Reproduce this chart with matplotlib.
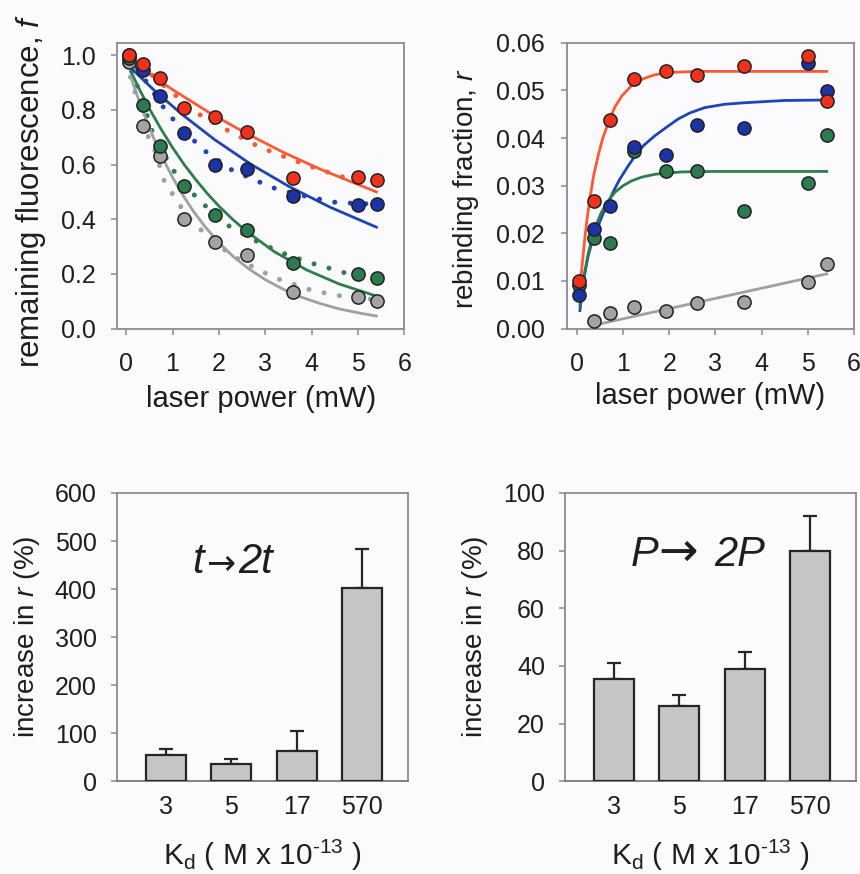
import matplotlib
matplotlib.use("Agg")
from matplotlib import pyplot as plt
from matplotlib.transforms import offset_copy

plt.rcParams['font.family'] = ['Liberation Sans', 'DejaVu Sans']
plt.rcParams['mathtext.fontset'] = 'custom'
plt.rcParams['mathtext.rm'] = 'Liberation Sans'
plt.rcParams['mathtext.it'] = 'Liberation Sans:italic'

# laser power values (mW) shared by both top panels
power = [0.05, 0.37, 0.72, 1.24, 1.92, 2.6, 3.61, 5.0, 5.41]

# remaining fluorescence f (top left)
f_red = [1.0, 0.967, 0.915, 0.806, 0.775, 0.72, 0.55, 0.553, 0.544]
f_blue = [1.0, 0.945, 0.85, 0.715, 0.597, 0.583, 0.484, 0.453, 0.456]
f_green = [0.99, 0.818, 0.668, 0.52, 0.417, 0.362, 0.24, 0.198, 0.186]
f_gray = [0.975, 0.74, 0.632, 0.40, 0.317, 0.268, 0.134, 0.116, 0.10]

# solid fit curves
fit_red_x = [0.3, 1.0, 1.8, 2.6, 3.4, 4.2, 5.4]
fit_red_y = [0.955, 0.874, 0.789, 0.713, 0.644, 0.582, 0.50]
fit_blue_x = [0.15, 0.6, 1.2, 1.9, 2.7, 3.5, 4.4, 5.4]
fit_blue_y = [0.945, 0.872, 0.784, 0.692, 0.600, 0.521, 0.444, 0.371]
fit_green_x = [0.1, 0.3, 0.5, 0.75, 1.0, 1.25, 1.5, 1.75, 2.0, 2.3, 2.6, 3.2, 3.9, 4.6, 5.4]
fit_green_y = [0.94, 0.87, 0.804, 0.73, 0.662, 0.60, 0.545, 0.494, 0.448, 0.399, 0.355, 0.281,
               0.214, 0.163, 0.119]
fit_gray_x = [0.1, 0.2, 0.4, 0.6, 0.8, 1.0, 1.2, 1.45, 1.7, 2.0, 2.3, 2.65, 3.0, 3.4, 3.8, 4.2,
              4.6, 5.0, 5.4]
fit_gray_y = [0.92, 0.869, 0.777, 0.694, 0.619, 0.553, 0.494, 0.429, 0.373, 0.314, 0.265, 0.218,
              0.179, 0.143, 0.114, 0.091, 0.072, 0.058, 0.046]

# dotted curves
dot_red_x = [0.05, 0.37, 0.98, 1.6, 2.24, 2.89, 3.5, 4.15, 4.76, 5.0, 5.41]
dot_red_y = [1.0, 0.955, 0.864, 0.781, 0.72, 0.663, 0.623, 0.583, 0.55, 0.545, 0.535]
dot_blue_x = [0.05, 0.41, 0.84, 1.09, 1.67, 2.28, 2.93, 3.25, 3.9, 4.51, 4.83, 5.41]
dot_blue_y = [1.0, 0.909, 0.80, 0.75, 0.653, 0.58, 0.532, 0.51, 0.483, 0.462, 0.459, 0.455]
dot_green_x = [0.12, 0.34, 0.55, 0.84, 1.06, 1.56, 2.17, 2.82, 3.14, 3.47, 3.79, 4.1, 4.42, 4.74,
               5.0, 5.41]
dot_green_y = [0.94, 0.84, 0.726, 0.63, 0.568, 0.471, 0.38, 0.319, 0.294, 0.27, 0.252, 0.234,
               0.219, 0.203, 0.198, 0.19]
dot_gray_x = [0.09, 0.30, 0.48, 0.63, 0.81, 0.99, 1.2, 1.45, 2.07, 2.39, 2.71, 3.04, 3.32, 3.65,
              3.97, 4.30, 4.62, 5.41]
dot_gray_y = [0.92, 0.805, 0.70, 0.647, 0.544, 0.495, 0.44, 0.385, 0.294, 0.258, 0.228, 0.20,
              0.179, 0.16, 0.142, 0.13, 0.12, 0.105]

# rebinding fraction r (top right)
r_red = [0.0099, 0.0268, 0.0439, 0.0524, 0.0541, 0.0532, 0.0551, 0.0572, 0.0478]
r_blue = [0.0070, 0.0209, 0.0258, 0.0382, 0.0365, 0.0428, 0.0422, 0.0557, 0.0498]
r_green = [0.0091, 0.019, 0.018, 0.0372, 0.0331, 0.033, 0.0246, 0.0306, 0.0406]
r_gray_x = [0.37, 0.72, 1.24, 1.92, 2.6, 3.61, 5.0, 5.41]
r_gray = [0.0015, 0.0033, 0.0045, 0.0037, 0.0054, 0.0056, 0.0098, 0.0135]

rfit_red_x = [0.065, 0.1, 0.17, 0.22, 0.28, 0.36, 0.46, 0.56, 0.68, 0.82, 0.97, 1.2, 1.4, 1.65,
              1.9, 2.3, 2.63, 5.41]
rfit_red_y = [0.0077, 0.012, 0.0188, 0.023, 0.0272, 0.032, 0.0363, 0.040, 0.0432, 0.0465,
              0.0488, 0.0512, 0.0523, 0.0532, 0.0537, 0.0539, 0.054, 0.054]
rfit_blue_x = [0.065, 0.15, 0.245, 0.35, 0.46, 0.57, 0.68, 0.8, 0.93, 1.1, 1.26, 1.45, 1.69, 1.9,
               2.19, 2.45, 2.77, 3.2, 3.6, 4.5, 5.41]
rfit_blue_y = [0.0038, 0.0105, 0.0153, 0.019, 0.0216, 0.0242, 0.0265, 0.029, 0.0314, 0.034,
               0.0363, 0.0385, 0.0405, 0.042, 0.044, 0.0453, 0.0464, 0.0471, 0.0474, 0.0479, 0.048]
rfit_green_x = [0.065, 0.12, 0.17, 0.24, 0.32, 0.42, 0.53, 0.66, 0.82, 1.0, 1.18, 1.4, 1.69, 2.0,
                2.27, 3.0, 5.41]
rfit_green_y = [0.0049, 0.009, 0.0119, 0.0155, 0.0188, 0.0218, 0.0244, 0.0266, 0.0286, 0.030,
                0.031, 0.0318, 0.0324, 0.0327, 0.0329, 0.033, 0.033]
rfit_gray_x = [0.36, 5.41]
rfit_gray_y = [0.0007, 0.0115]

# bar panels
kd_labels = ['3', '5', '17', '570']
time_increase = [55.5, 35.5, 64, 403]
time_err = [12.5, 10.5, 40, 80]
power_increase = [35.6, 26, 39, 80]
power_err = [5.4, 4, 6, 12]

RED, BLUE, GREEN, GRAY = '#f2311d', '#1c33a6', '#2c7b4e', '#a3a3a5'
RED_L, BLUE_L, GREEN_L, GRAY_L = '#fd5a32', '#1f44b8', '#2f7d4b', '#a0a0a2'
BG = '#fbfbfd'
TXT = '#1e1e1e'
SPINE = '#8c8c8c'

fig = plt.figure(figsize=(8.6, 8.74), dpi=100, facecolor=BG)


def style_axes(ax):
    ax.set_facecolor(BG)
    for s in ax.spines.values():
        s.set_color(SPINE)
        s.set_linewidth(1.3)
    ax.tick_params(labelsize=18, colors=SPINE, labelcolor=TXT, length=4.5, width=1.1)


def draw_points(ax, x, y, c):
    ax.plot(x, y, 'o', ms=9.5, mfc=c, mec='#222222', mew=1.1, zorder=5)


# top left
ax1 = fig.add_axes([0.136, 0.624, 0.334, 0.327])
style_axes(ax1)
for dx, dy, c in [(dot_red_x, dot_red_y, RED_L), (dot_blue_x, dot_blue_y, BLUE_L),
                  (dot_green_x, dot_green_y, GREEN_L), (dot_gray_x, dot_gray_y, GRAY_L)]:
    ax1.plot(dx, dy, color=c, lw=3.6, ls=(0, (0.01, 3.1)), dash_capstyle='round', zorder=3)
for fx, fy, c in [(fit_red_x, fit_red_y, RED_L), (fit_blue_x, fit_blue_y, BLUE_L),
                  (fit_green_x, fit_green_y, GREEN_L), (fit_gray_x, fit_gray_y, GRAY_L)]:
    ax1.plot(fx, fy, color=c, lw=2.0, zorder=4)
draw_points(ax1, power, f_gray, GRAY)
draw_points(ax1, power, f_green, GREEN)
draw_points(ax1, power, f_blue, BLUE)
draw_points(ax1, power, f_red, RED)
ax1.set_xlim(-0.2, 6)
ax1.set_ylim(0, 1.045)
ax1.set_xticks(range(7))
ax1.set_yticks([0.0, 0.2, 0.4, 0.6, 0.8, 1.0])
ax1.set_yticklabels(['0.0', '0.2', '0.4', '0.6', '0.8', '1.0'])
ax1.tick_params(axis='x', pad=12)
ax1.tick_params(axis='y', pad=11)
ax1.text(-0.30, 0.48, 'remaining fluorescence, $f$', transform=ax1.transAxes, rotation=90,
         ha='center', va='center', fontsize=22.5, color=TXT)
ax1.text(0.5, -0.245, 'laser power (mW)', transform=ax1.transAxes,
         ha='center', va='center', fontsize=21, color=TXT)

# top right
ax2 = fig.add_axes([0.659, 0.624, 0.334, 0.327])
style_axes(ax2)
for fx, fy, c in [(rfit_red_x, rfit_red_y, RED_L), (rfit_blue_x, rfit_blue_y, BLUE_L),
                  (rfit_green_x, rfit_green_y, GREEN_L), (rfit_gray_x, rfit_gray_y, GRAY_L)]:
    ax2.plot(fx, fy, color=c, lw=2.0, zorder=4)
draw_points(ax2, r_gray_x, r_gray, GRAY)
draw_points(ax2, power, r_green, GREEN)
draw_points(ax2, power, r_blue, BLUE)
draw_points(ax2, power, r_red, RED)
ax2.set_xlim(-0.22, 6)
ax2.set_ylim(0, 0.06)
ax2.set_xticks(range(7))
ax2.set_yticks([0.0, 0.01, 0.02, 0.03, 0.04, 0.05, 0.06])
ax2.set_yticklabels(['0.00', '0.01', '0.02', '0.03', '0.04', '0.05', '0.06'])
ax2.tick_params(axis='x', pad=12)
ax2.tick_params(axis='y', pad=11)
ax2.text(-0.35, 0.49, 'rebinding fraction, $r$', transform=ax2.transAxes, rotation=90,
         ha='center', va='center', fontsize=20, color=TXT)
ax2.text(0.5, -0.235, 'laser power (mW)', transform=ax2.transAxes,
         ha='center', va='center', fontsize=21, color=TXT)


def bar_panel(rect, vals, errs, ymax, ystep, note):
    ax = fig.add_axes(rect)
    style_axes(ax)
    pos = list(range(len(kd_labels)))
    ax.bar(pos, vals, width=0.61, color='#c6c6c8', edgecolor='#262626', linewidth=1.6, zorder=3)
    ax.errorbar(pos, vals, yerr=[[0] * len(errs), errs], fmt='none', ecolor='#262626',
                elinewidth=1.6, capsize=5, capthick=1.6, zorder=2)
    ax.set_xlim(-0.75, 3.7)
    ax.set_ylim(0, ymax)
    ax.set_yticks(range(0, ymax + 1, ystep))
    ax.set_xticks(pos)
    ax.set_xticklabels(kd_labels)
    ax.tick_params(axis='x', length=0, pad=10)
    ax.tick_params(axis='y', pad=10)
    ax.spines['bottom'].set_color('#777777')
    ax.text(-0.31, 0.5, 'increase in $r$ (%)', transform=ax.transAxes, rotation=90,
            ha='center', va='center', fontsize=20, color=TXT)
    ax.text(0.5, -0.255, r'K$_\mathregular{d}$ ( M x 10$^{\text{-13}}$ )', transform=ax.transAxes,
            ha='center', va='center', fontsize=21.5, color=TXT)
    # annotation: letter, arrow glyph, letters, laid out around the arrow centre
    ax_x, base_y, left, right, gap_l, gap_r, arrow_size = note
    ax.text(ax_x, base_y, '\u2192', ha='center', va='baseline', fontsize=arrow_size,
            family=['DejaVu Sans'], color=TXT)
    ax.text(ax_x, base_y, left, ha='right', va='baseline', fontsize=30, style='italic', color=TXT,
            transform=offset_copy(ax.transData, fig=fig, x=-gap_l, y=0, units='points'))
    ax.text(ax_x, base_y, right, ha='left', va='baseline', fontsize=30, style='italic', color=TXT,
            transform=offset_copy(ax.transData, fig=fig, x=gap_r, y=0, units='points'))
    return ax


bar_panel([0.136, 0.106, 0.338, 0.330], time_increase, time_err, 600, 100,
          (0.83, 433, 't', '2t', 12, 13, 25))
bar_panel([0.657, 0.106, 0.338, 0.330], power_increase, power_err, 100, 20,
          (0.98, 74.6, 'P', '2P', 14, 26, 34))

fig.savefig('out.png', dpi=100, facecolor=BG)
